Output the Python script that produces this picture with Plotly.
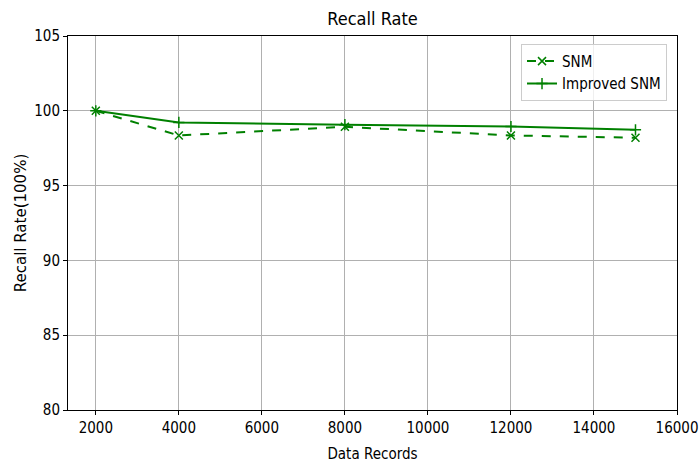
import plotly.graph_objects as go

records = [2000, 4000, 8000, 12000, 15000]
snm = [100.0, 98.35, 98.93, 98.35, 98.2]
improved_snm = [100.0, 99.22, 99.07, 98.95, 98.73]
x_ticks = [2000, 4000, 6000, 8000, 10000, 12000, 14000, 16000]
x_tick_labels = [str(v) for v in x_ticks]
y_ticks = [80, 85, 90, 95, 100, 105]

green = "#008000"
font = "DejaVu Sans Condensed, DejaVu Sans, sans-serif"
font_wide = "DejaVu Sans, sans-serif"

fig = go.Figure()
fig.add_trace(go.Scatter(
    x=records, y=snm, name="SNM", mode="lines+markers",
    line=dict(color=green, width=2, dash="dash"),
    marker=dict(symbol="x-thin", size=8, line=dict(color=green, width=1.5), color=green),
))
fig.add_trace(go.Scatter(
    x=records, y=improved_snm, name="Improved SNM", mode="lines+markers",
    line=dict(color=green, width=2),
    marker=dict(symbol="cross-thin", size=8, line=dict(color=green, width=1.5), color=green),
))

axis_common = dict(
    showline=True, linecolor="black", linewidth=1, mirror=True,
    ticks="outside", ticklen=4, tickcolor="black",
    showgrid=True, gridcolor="#b0b0b0", gridwidth=1,
    zeroline=False,
    tickfont=dict(family=font, size=15, color="black"),
)

W, H = 699, 463
L, R, T, B = 68, 22, 36, 53

fig.update_layout(
    width=W, height=H,
    margin=dict(l=L, r=R, t=T, b=B),
    paper_bgcolor="white", plot_bgcolor="white",
    title=dict(text="Recall Rate", x=(L + W - R) / 2 / W, xanchor="center",
               y=1 - 19 / H, yanchor="middle",
               font=dict(family=font, size=18, color="black")),
    xaxis=dict(range=[1330, 16000], tickvals=x_ticks, ticktext=x_tick_labels,
               automargin=False,
               title=dict(text="Data Records", font=dict(family=font, size=15, color="black"), standoff=13),
               **axis_common),
    yaxis=dict(range=[80, 105], tickvals=y_ticks,
               automargin=True,
               title=dict(text="Recall Rate(100%)", font=dict(family=font_wide, size=15, color="black"), standoff=3),
               **axis_common),
    legend=dict(x=0.9836, y=0.979, xanchor="right", yanchor="top",
                bgcolor="rgba(255,255,255,0.8)", bordercolor="#cccccc", borderwidth=1,
                font=dict(family=font, size=15, color="black"),
                itemwidth=30),
    showlegend=True,
)

fig.write_html("out.html", config={"displayModeBar": False},
               post_script="document.body.style.margin='0';document.body.style.overflow='hidden';")
